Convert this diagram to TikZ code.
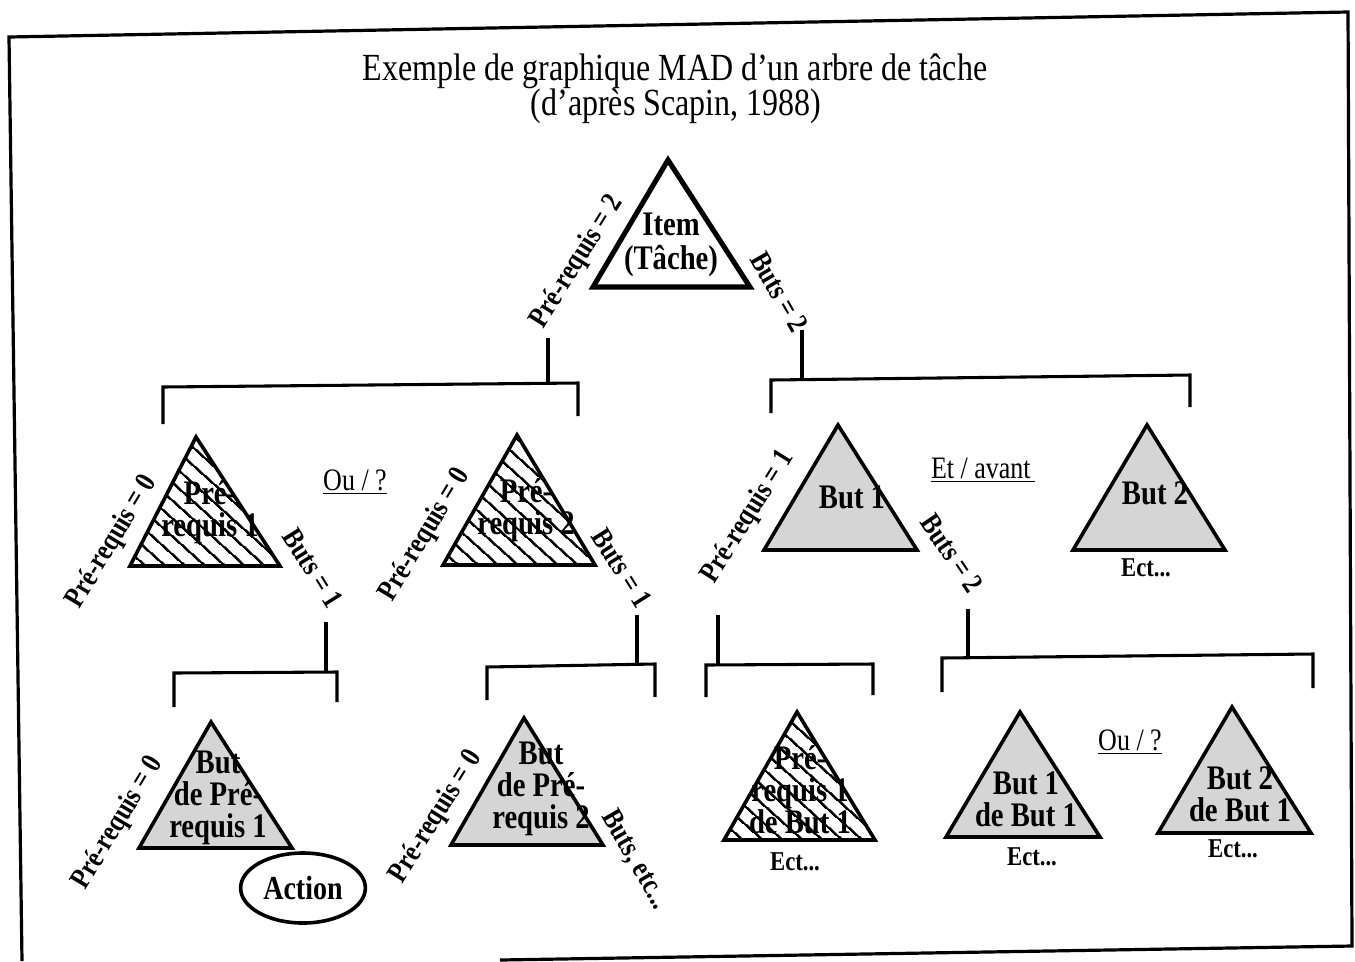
\documentclass[tikz,border=0pt]{standalone}
\usepackage{fontspec}
\setmainfont{Liberation Serif}
\usetikzlibrary{patterns.meta,shapes.geometric}
\newcommand{\tall}[1]{\scalebox{1}[1.2]{#1}}
\begin{document}
\begin{tikzpicture}[x=0.75pt,y=-0.75pt,
  tri/.style={draw,line width=2.7pt,line join=miter},
  toptri/.style={draw,line width=3.8pt,line join=miter},
  hatch/.style={pattern={Lines[angle=-42,distance=10.5pt,line width=2pt]}},
  dotfill/.style={fill=gray!33},
  brk/.style={line width=2.3pt},
  frm/.style={line width=2.4pt},
  lab/.style={font=\fontsize{18.5}{18.5}\selectfont\bfseries,inner sep=0pt},
  ttxt/.style={font=\fontsize{21.5}{24}\selectfont\bfseries,align=center,inner sep=0pt},
  ect/.style={font=\fontsize{17}{17}\selectfont\bfseries,inner sep=0pt},
  rel/.style={font=\fontsize{19.5}{19.5}\selectfont,inner sep=0pt},
  ttl/.style={font=\fontsize{24}{24}\selectfont,inner sep=0pt}]
\useasboundingbox (0,0) rectangle (1355,961);
% frame
\draw[frm] (22,961) -- (9,37) -- (1348,12) -- (1352,946) -- (500,960);
% title
\node[ttl] (title1) at (675,71) {\tall{Exemple de graphique MAD d'un arbre de tâche}};
\node[ttl] (title2) at (676,106) {\tall{(d'après Scapin, 1988)}};
% triangles
\path[toptri] (668,160) -- (750,287) -- (593,287) -- cycle;
\node[ttxt,font=\fontsize{21.5}{25}\selectfont\bfseries] (item) at (671,245) {\tall{Item}\\\tall{(Tâche)}};

\path[tri,hatch] (196,437) -- (280,566) -- (130,566) -- cycle;
\node[ttxt] (pr1) at (210,512) {\tall{Pré-}\\\tall{requis 1}};
\path[tri,hatch] (517,435) -- (595,565) -- (443,565) -- cycle;
\node[ttxt] (pr2) at (526,510) {\tall{Pré-}\\\tall{requis 2}};
\path[tri,dotfill] (838,425) -- (917,550) -- (764,550) -- cycle;
\node[ttxt] (but1) at (852,497) {\tall{But 1}};
\path[tri,dotfill] (1147,425) -- (1225,550) -- (1073,550) -- cycle;
\node[ttxt] (but2) at (1155,493) {\tall{But 2}};

\path[tri,dotfill] (211,722) -- (292,848) -- (139,848) -- cycle;
\node[ttxt] (bpr1) at (218,798) {\tall{But}\\\tall{de Pré-}\\\tall{requis 1}};
\path[tri,dotfill] (524,718) -- (603,845) -- (451,845) -- cycle;
\node[ttxt] (bpr2) at (541,789) {\tall{But}\\\tall{de Pré-}\\\tall{requis 2}};
\path[tri,hatch] (797,712) -- (875,840) -- (724,840) -- cycle;
\node[ttxt] (pr1b1) at (800,790) {\tall{Pré-}\\\tall{requis 1}\\\tall{de But 1}};
\path[tri,dotfill] (1020,712) -- (1100,837) -- (946,837) -- cycle;
\node[ttxt] (b1b1) at (1026,799) {\tall{But 1}\\\tall{de But 1}};
\path[tri,dotfill] (1232,707) -- (1311,833) -- (1158,833) -- cycle;
\node[ttxt] (b2b1) at (1240,794) {\tall{But 2}\\\tall{de But 1}};

\node[draw,ellipse,line width=2.7pt,minimum width=116*0.75pt,minimum height=70*0.75pt,
  font=\fontsize{21}{21}\selectfont\bfseries] (action) at (303,888) {\tall{Action}};

% Ect labels
\node[ect] (e1) at (1146,568) {\tall{Ect...}};
\node[ect] (e2) at (795,862) {\tall{Ect...}};
\node[ect] (e3) at (1032,857) {\tall{Ect...}};
\node[ect] (e4) at (1233,849) {\tall{Ect...}};

% relation labels
\node[rel] (ou1) at (355,482) {\tall{\underline{Ou / ?}}};
\node[rel] (etav) at (983,470) {\tall{\underline{Et / avant\,}}};
\node[rel] (ou2) at (1130,742) {\tall{\underline{Ou / ?}}};

% edge labels
\node[lab,rotate=58] (l1) at (577,262) {\tall{Pré-requis = 2}};
\node[lab,rotate=-60] (l2) at (779,292) {\tall{Buts = 2}};
\node[lab,rotate=59] (l3) at (112,542) {\tall{Pré-requis = 0}};
\node[lab,rotate=-58] (l4) at (313,568) {\tall{Buts = 1}};
\node[lab,rotate=59] (l5) at (425,535) {\tall{Pré-requis = 0}};
\node[lab,rotate=-58] (l6) at (622,568) {\tall{Buts = 1}};
\node[lab,rotate=58] (l7) at (748,517) {\tall{Pré-requis = 1}};
\node[lab,rotate=-56] (l8) at (952,553) {\tall{Buts = 2}};
\node[lab,rotate=59] (l9) at (118,823) {\tall{Pré-requis = 0}};
\node[lab,rotate=58] (l10) at (436,817) {\tall{Pré-requis = 0}};
\node[lab,rotate=-60] (l11) at (635,860) {\tall{Buts, etc...}};

% brackets
\coordinate (a1) at (548,338); \coordinate (a2) at (548,385);
\coordinate (a3) at (163,424); \coordinate (a4) at (163,387); \coordinate (a5) at (578,383); \coordinate (a6) at (578,416);
\draw[brk] (a1) -- (a2);
\draw[brk] (a3) -- (a4) -- (a5) -- (a6);

\coordinate (c1) at (802,330); \coordinate (c2) at (802,378);
\coordinate (c3) at (771,413); \coordinate (c4) at (771,380); \coordinate (c5) at (1190,375); \coordinate (c6) at (1190,407);
\draw[brk] (c1) -- (c2);
\draw[brk] (c3) -- (c4) -- (c5) -- (c6);

\coordinate (d1) at (326,622); \coordinate (d2) at (326,672);
\coordinate (d3) at (174,707); \coordinate (d4) at (174,673); \coordinate (d5) at (337,672); \coordinate (d6) at (337,702);
\draw[brk] (d1) -- (d2);
\draw[brk] (d3) -- (d4) -- (d5) -- (d6);

\coordinate (f1) at (637,615); \coordinate (f2) at (637,665);
\coordinate (f3) at (487,700); \coordinate (f4) at (487,667); \coordinate (f5) at (655,664); \coordinate (f6) at (655,697);
\draw[brk] (f1) -- (f2);
\draw[brk] (f3) -- (f4) -- (f5) -- (f6);

\coordinate (g1) at (718,615); \coordinate (g2) at (718,664);
\coordinate (g3) at (706,697); \coordinate (g4) at (706,665); \coordinate (g5) at (873,664); \coordinate (g6) at (873,695);
\draw[brk] (g1) -- (g2);
\draw[brk] (g3) -- (g4) -- (g5) -- (g6);

\coordinate (h1) at (968,609); \coordinate (h2) at (968,657);
\coordinate (h3) at (942,692); \coordinate (h4) at (942,658); \coordinate (h5) at (1313,654); \coordinate (h6) at (1313,688);
\draw[brk] (h1) -- (h2);
\draw[brk] (h3) -- (h4) -- (h5) -- (h6);
\end{tikzpicture}
\end{document}
